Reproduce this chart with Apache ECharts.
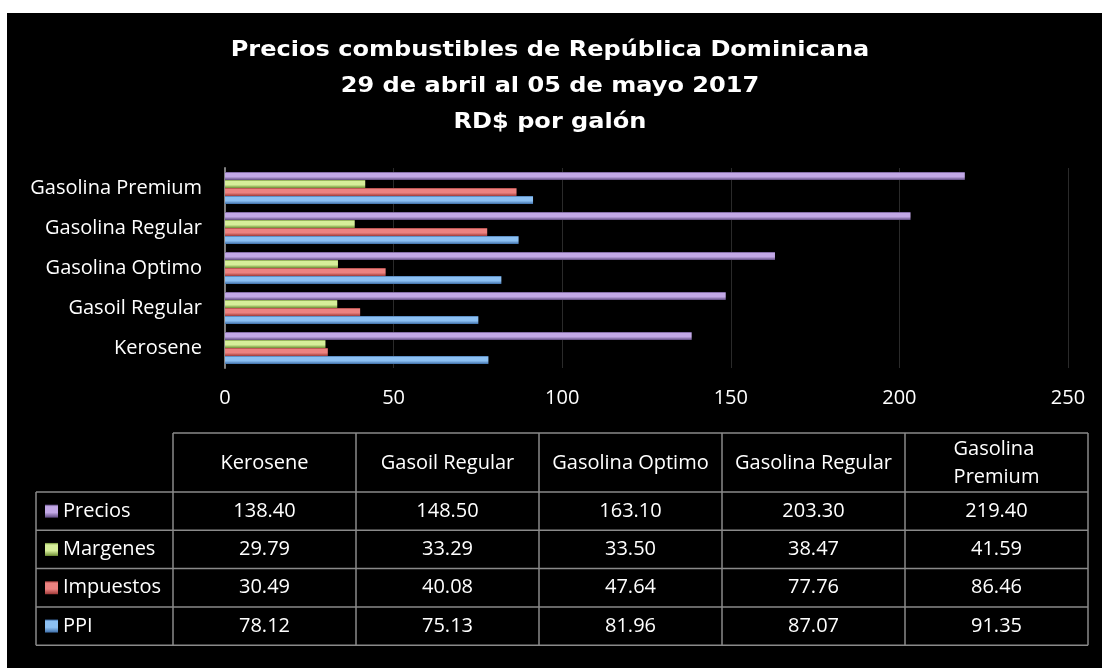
<!DOCTYPE html>
<html>
<head>
<meta charset="utf-8">
<script src="https://cdn.jsdelivr.net/npm/echarts@6/dist/echarts.min.js"></script>
<style>
  html, body { margin: 0; padding: 0; background: #fff; }
  #bg { position: absolute; left: 7px; top: 13px; width: 1095px; height: 655px; background: #000; }
  #chart { position: absolute; left: 0; top: 0; width: 1102px; height: 668px; }
</style>
</head>
<body>
<div id="bg"></div>
<div id="chart"></div>
<script>
// datos
var categorias = ['Kerosene', 'Gasoil Regular', 'Gasolina Optimo', 'Gasolina Regular', 'Gasolina Premium']
var ppi = [78.12, 75.13, 81.96, 87.07, 91.35]
var impuestos = [30.49, 40.08, 47.64, 77.76, 86.46]
var margenes = [29.79, 33.29, 33.50, 38.47, 41.59]
var precios = [138.40, 148.50, 163.10, 203.30, 219.40]
var ejeX = [0, 50, 100, 150, 200, 250]
var titulo = ['Precios combustibles de República Dominicana', '29 de abril al 05 de mayo 2017', 'RD$ por galón']

var FONT = '"Open Sans", sans-serif'
var FS = 20

// colores con efecto de bisel (como en Excel)
function bisel (borde, claro) {
  return {
    color: new echarts.graphic.LinearGradient(0, 0, 0, 1, [
      { offset: 0, color: borde },
      { offset: 0.15, color: claro },
      { offset: 0.6, color: claro },
      { offset: 1, color: borde }
    ])
  }
}

var estilos = {
  PPI: bisel('#3e6ea8', '#8cc0f2'),
  Impuestos: bisel('#a03a38', '#ec8280'),
  Margenes: bisel('#6e8e34', '#d6ee9a'),
  Precios: bisel('#5e4a80', '#c2a8e6')
}

// filas de la tabla (orden de arriba a abajo)
var filas = [
  { name: 'Precios', data: precios },
  { name: 'Margenes', data: margenes },
  { name: 'Impuestos', data: impuestos },
  { name: 'PPI', data: ppi }
]

// en barras horizontales la primera serie queda arriba del grupo
var series = filas.map(function (s) {
  return {
    name: s.name,
    type: 'bar',
    data: s.data,
    barWidth: 8,
    barGap: '0%',
    itemStyle: estilos[s.name]
  }
})

// tabla de datos debajo del grafico
var tabla = { x0: 36, x1: 173, x2: 1088, yTop: 433, yHead: 492, rowH: 38.3 }
var colW = (tabla.x2 - tabla.x1) / categorias.length
var yBottom = tabla.yHead + filas.length * tabla.rowH
var lineStyle = { stroke: '#8a8a8a', lineWidth: 1.5 }
var graficos = []

function linea (x1, y1, x2, y2) {
  graficos.push({ type: 'line', shape: { x1: x1, y1: y1, x2: x2, y2: y2 }, style: lineStyle, silent: true })
}
function texto (txt, x, y) {
  graficos.push({
    type: 'text', x: x, y: y, silent: true,
    style: { text: txt, fill: '#fff', font: FS + 'px ' + FONT, align: 'center', verticalAlign: 'middle', width: colW - 12, overflow: 'break', lineHeight: 28 }
  })
}

// horizontales
linea(tabla.x1, tabla.yTop, tabla.x2, tabla.yTop)
for (var r = 0; r <= filas.length; r++) {
  linea(tabla.x0, tabla.yHead + r * tabla.rowH, tabla.x2, tabla.yHead + r * tabla.rowH)
}
// verticales
linea(tabla.x0, tabla.yHead, tabla.x0, yBottom)
for (var c = 0; c <= categorias.length; c++) {
  linea(tabla.x1 + c * colW, tabla.yTop, tabla.x1 + c * colW, yBottom)
}
categorias.forEach(function (cat, i) {
  texto(cat, tabla.x1 + (i + 0.5) * colW, (tabla.yTop + tabla.yHead) / 2 + 1)
  filas.forEach(function (f, j) {
    texto(f.data[i].toFixed(2), tabla.x1 + (i + 0.5) * colW, tabla.yHead + (j + 0.5) * tabla.rowH)
  })
})

// titulo con letras espaciadas (estirado en x)
graficos.push({
  type: 'text', x: 550, y: 87, scaleX: 1.145, silent: true,
  style: {
    text: titulo.join('\n'), fill: '#fff', font: 'bold 21px "DejaVu Sans", sans-serif',
    align: 'center', verticalAlign: 'middle', lineHeight: 36
  }
})

var chart = echarts.init(document.getElementById('chart'), null, { renderer: 'canvas' })
chart.setOption({
  backgroundColor: 'transparent',
  animation: false,
  legend: {
    data: filas.map(function (f) { return f.name }),
    orient: 'vertical',
    left: 45,
    top: tabla.yHead + tabla.rowH / 2 - 10,
    padding: 0,
    itemWidth: 13,
    itemHeight: 13,
    itemGap: tabla.rowH - 20,
    icon: 'rect',
    selectedMode: false,
    textStyle: { color: '#fff', fontSize: FS, fontFamily: FONT, lineHeight: 20 }
  },
  grid: { left: 225, right: 34, top: 168, bottom: 300, containLabel: false },
  xAxis: {
    type: 'value',
    min: ejeX[0],
    max: ejeX[ejeX.length - 1],
    interval: ejeX[1] - ejeX[0],
    axisLine: { show: false },
    axisTick: { show: false },
    axisLabel: { color: '#fff', fontSize: FS, fontFamily: FONT, margin: 20 },
    splitLine: { show: true, lineStyle: { color: '#2a2a2a', width: 1 } }
  },
  yAxis: {
    type: 'category',
    data: categorias,
    axisLine: { show: true, lineStyle: { color: '#808080', width: 2 } },
    axisTick: { show: false },
    axisLabel: { color: '#fff', fontSize: FS, fontFamily: FONT, margin: 23 }
  },
  series: series,
  graphic: graficos
})
</script>
</body>
</html>
